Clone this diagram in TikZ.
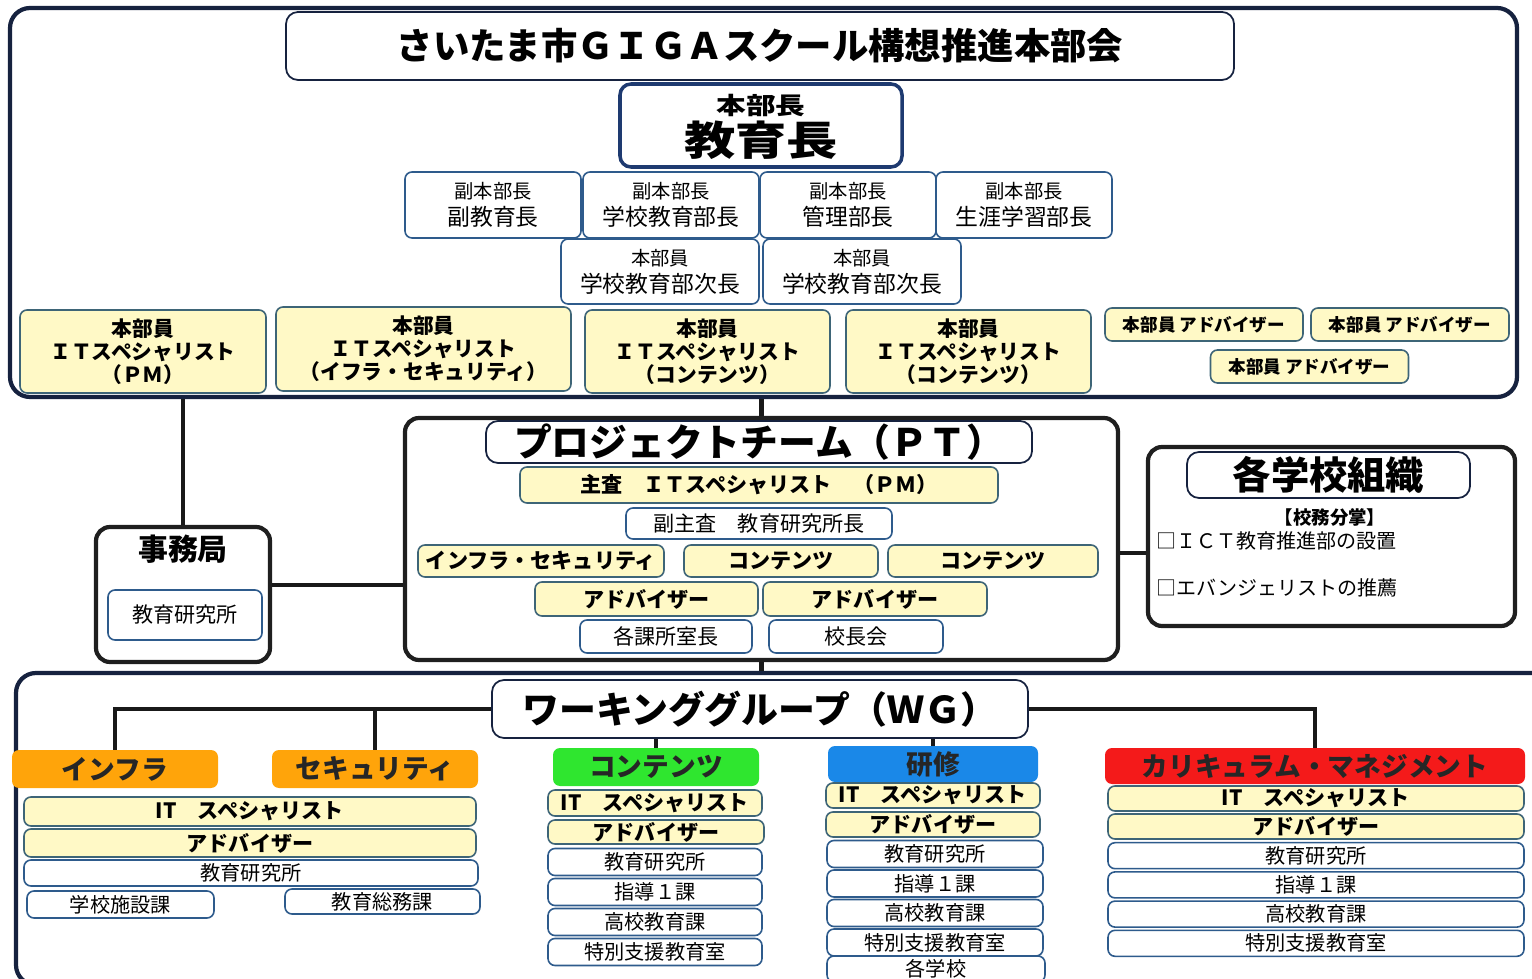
\documentclass[tikz,border=0pt]{standalone}
\usepackage{fontspec}
\setmainfont{Noto Sans CJK JP}

\definecolor{framenavy}{HTML}{16223F}
\definecolor{chiefblue}{HTML}{1E3A70}
\definecolor{boxblue}{HTML}{2E5B8C}
\definecolor{boxteal}{HTML}{3E6577}
\definecolor{paleyellow}{HTML}{FFF9C6}
\definecolor{catorange}{HTML}{FFA40A}
\definecolor{catgreen}{HTML}{2FE62F}
\definecolor{catblue}{HTML}{1A88E8}
\definecolor{catred}{HTML}{F41A1A}

\tikzset{
  boxsize/.style 2 args={minimum width=#1*0.02cm, minimum height=#2*0.02cm},
  outerframe/.style={draw=framenavy, line width=2.4pt, rounded corners=0.4cm},
  blkframe/.style={draw=black!88, line width=2.4pt, rounded corners=0.28cm},
  headbox/.style={draw=framenavy, line width=1pt, fill=white, rounded corners=0.24cm, inner sep=0pt},
  wbox/.style={draw=boxblue, line width=0.9pt, fill=white, rounded corners=0.14cm, inner sep=0pt, align=center, font=\fontsize{12}{14}\selectfont},
  ybox/.style={wbox, draw=boxteal, fill=paleyellow, font=\bfseries\fontsize{12}{14}\selectfont},
  wgbox/.style={wbox, font=\fontsize{11.5}{13}\selectfont},
  catbox/.style={rounded corners=0.14cm, inner sep=0pt, text=black!85, font=\bfseries\fontsize{15.2}{18}\selectfont},
  link/.style={draw=black!90, line width=2.4pt},
}

\begin{document}
\begin{tikzpicture}[x=0.02cm, y=-0.02cm] % 1 Pixel = 0.02cm
\useasboundingbox (0,0) rectangle (1532,979);
\clip (0,0) rectangle (1532,979);

% Rahmen
\node[outerframe, boxsize={1507}{389}] (top) at (763.5,202.5) {};
\node[outerframe, boxsize={1544}{312}] (wg) at (788,829) {}; % rechts und unten abgeschnitten
\node[blkframe, boxsize={174}{135}] (jimu) at (183,594.5) {};
\node[blkframe, boxsize={713}{242}] (pt) at (761.5,539) {};
\node[blkframe, boxsize={367}{179}] (school) at (1331.5,536.5) {};

% Kopf
\node[headbox, boxsize={948}{68}, font=\bfseries\fontsize{20.7}{24}\selectfont] (title) at (760,46) {さいたま市ＧＩＧＡスクール構想推進本部会};
\node[draw=chiefblue, line width=2pt, fill=white, rounded corners=0.22cm, boxsize={282}{83}] (chief) at (761,125.5) {};
\node[inner sep=0pt, font=\bfseries\fontsize{13.5}{16}\selectfont] (chief-a) at (761,106) {\scalebox{1.25}[1]{本部長}};
\node[inner sep=0pt, font=\bfseries\fontsize{23}{26}\selectfont] (chief-b) at (761,140) {\scalebox{1.27}[1]{教育長}};

%副本部長
\foreach \x/\t [count=\i] in {493/副教育長, 671/学校教育部長, 848/管理部長, 1024/生涯学習部長}
  \node[wbox, boxsize={176}{66}, font=\fontsize{13}{15.4}\selectfont] (dep\i) at (\x,205) {{\fontsize{11}{15.4}\selectfont 副本部長}\\\t};

% 本部員
\foreach \x [count=\i] in {660, 862}
  \node[wbox, boxsize={198}{65}, font=\fontsize{13}{15.4}\selectfont] (mem\i) at (\x,271.5) {{\fontsize{11}{15.4}\selectfont 本部員}\\学校教育部次長};

% ITスペシャリスト
\node[ybox, boxsize={246}{83}, font=\bfseries\fontsize{11.8}{13}\selectfont] (it1) at (143,351.5) {本部員\\ＩＴスペシャリスト\\（ＰＭ）};
\node[ybox, boxsize={295}{84}, font=\bfseries\fontsize{11.8}{13}\selectfont] (it2) at (423.5,349) {本部員\\ＩＴスペシャリスト\\（イフラ・セキュリティ）};
\foreach \x [count=\i from 3] in {707.5, 968.5}
  \node[ybox, boxsize={245}{83}, font=\bfseries\fontsize{11.8}{13}\selectfont] (it\i) at (\x,351.5) {本部員\\ＩＴスペシャリスト\\（コンテンツ）};

% Berater
\foreach \x/\y [count=\i] in {1204/324.5, 1410/324.5, 1309.5/366.5}
  \node[ybox, boxsize={198}{33}, font=\bfseries\fontsize{10}{12}\selectfont] (adv\i) at (\x,\y) {本部員 アドバイザー};

% 事務局
\node[font=\bfseries\fontsize{17}{20}\selectfont] (jimu-t) at (183,549) {事務局};
\node[wbox, boxsize={154}{50}] (jimu-k) at (185,615) {教育研究所};

% プロジェクトチーム
\node[headbox, boxsize={546}{42}, font=\bfseries\fontsize{21.5}{24}\selectfont] (pt-t) at (759,442) {プロジェクトチーム（ＰＴ）};
\node[ybox, boxsize={478}{36}] (pt-pm) at (759,485) {主査　ＩＴスペシャリスト　（ＰＭ）};
\node[wbox, boxsize={266}{31}] (pt-vice) at (759,523.5) {副主査　教育研究所長};
\node[ybox, boxsize={246}{32}] (pt-inf) at (541,561) {インフラ・セキュリティ};
\node[ybox, boxsize={194}{32}] (pt-c1) at (781,561) {コンテンツ};
\node[ybox, boxsize={210}{32}] (pt-c2) at (993,561) {コンテンツ};
\node[ybox, boxsize={223}{34}] (pt-a1) at (646.5,599) {アドバイザー};
\node[ybox, boxsize={224}{34}] (pt-a2) at (875,599) {アドバイザー};
\node[wbox, boxsize={172}{33}] (pt-k1) at (666,636.5) {各課所室長};
\node[wbox, boxsize={174}{33}] (pt-k2) at (856,636.5) {校長会};

% 各学校組織
\node[headbox, boxsize={283}{46}, font=\bfseries\fontsize{21.8}{24}\selectfont] (school-t) at (1328.5,475) {各学校組織};
\node[font=\bfseries\fontsize{10.5}{12}\selectfont] (bunsho) at (1330,517) {【校務分掌】};
\node[anchor=west, inner sep=0pt, font=\fontsize{11.4}{13}\selectfont] (item1) at (1156,541) {□ＩＣＴ教育推進部の設置};
\node[anchor=west, inner sep=0pt, font=\fontsize{11.4}{13}\selectfont] (item2) at (1156,588) {□エバンジェリストの推薦};

% ワーキンググループ
\node[headbox, boxsize={536}{58}, font=\bfseries\fontsize{21}{24}\selectfont] (wg-t) at (760,709) {ワーキンググループ（ＷＧ）};
\node[catbox, fill=catorange, boxsize={206}{38}] (infra) at (115,769) {インフラ};
\node[catbox, fill=catorange, boxsize={206}{38}] (sec) at (375,769) {セキュリティ};
\node[catbox, fill=catgreen, boxsize={206}{38}] (cont) at (656,767) {コンテンツ};
\node[catbox, fill=catblue, boxsize={210}{36}] (ken) at (933,764) {研修};
\node[catbox, fill=catred, boxsize={420}{36}] (cur) at (1315,766) {カリキュラム・マネジメント};

% Spalte インフラ・セキュリティ
\node[ybox, boxsize={452}{29}] (wi-it) at (250,811.5) {IT　スペシャリスト};
\node[ybox, boxsize={452}{28}] (wi-ad) at (250,843) {アドバイザー};
\node[wgbox, boxsize={454}{26}] (wi-ken) at (251,873) {教育研究所};
\node[wgbox, boxsize={187}{27}] (wi-shi) at (120.5,904.5) {学校施設課};
\node[wgbox, boxsize={195}{25}] (wi-sou) at (382.5,901.5) {教育総務課};

% Spalte コンテンツ
\node[ybox, boxsize={214}{26}] (wc-it) at (655,803) {IT　スペシャリスト};
\node[ybox, boxsize={216}{24}] (wc-ad) at (656,832) {アドバイザー};
\foreach \t [count=\i] in {教育研究所,指導１課,高校教育課,特別支援教育室}
  \node[wgbox, boxsize={214}{27}] (wc-\i) at (655,{832+30*\i}) {\t};

% Spalte 研修
\node[ybox, boxsize={214}{25}] (wk-it) at (933,795.5) {IT　スペシャリスト};
\node[ybox, boxsize={214}{25}] (wk-ad) at (933,824.5) {アドバイザー};
\foreach \t [count=\i] in {教育研究所,指導１課,高校教育課,特別支援教育室}
  \node[wgbox, boxsize={216}{27}] (wk-\i) at (935,{824.5+29.5*\i}) {\t};
\node[wgbox, boxsize={218}{26}] (wk-5) at (936,969) {各学校}; % unten angeschnitten

% Spalte カリキュラム・マネジメント
\node[ybox, boxsize={416}{25}] (wm-it) at (1316,798.5) {IT　スペシャリスト};
\node[ybox, boxsize={416}{25}] (wm-ad) at (1316,826.5) {アドバイザー};
\foreach \t [count=\i] in {教育研究所,指導１課,高校教育課,特別支援教育室}
  \node[wgbox, boxsize={416}{26}] (wm-\i) at (1316,{826.5+29.2*\i}) {\t};

% Verbindungen
\draw[link, line width=2.8pt] (jimu.north) -- (jimu.north |- top.south);
\draw[link] (pt.north) -- (pt.north |- top.south);
\draw[link] ([yshift=0.19cm]jimu.east) -- ([yshift=0.19cm]jimu.east -| pt.west);
\draw[link] ([yshift=-0.28cm]pt.east) -- ([yshift=-0.28cm]pt.east -| school.west);
\draw[link] (pt.south) -- (pt.south |- wg.north);
\draw[link, line width=2.2pt] (wg-t.west) -| (infra.north);
\draw[link, line width=2.2pt] (sec.north) -- (sec.north |- wg-t.west);
\draw[link, line width=1.8pt] (cont.north) -- (cont.north |- wg-t.south);
\draw[link, line width=1.8pt] (ken.north) -- (ken.north |- wg-t.south);
\draw[link, line width=2.2pt] (wg-t.east) -| (cur.north);
\end{tikzpicture}
\end{document}
